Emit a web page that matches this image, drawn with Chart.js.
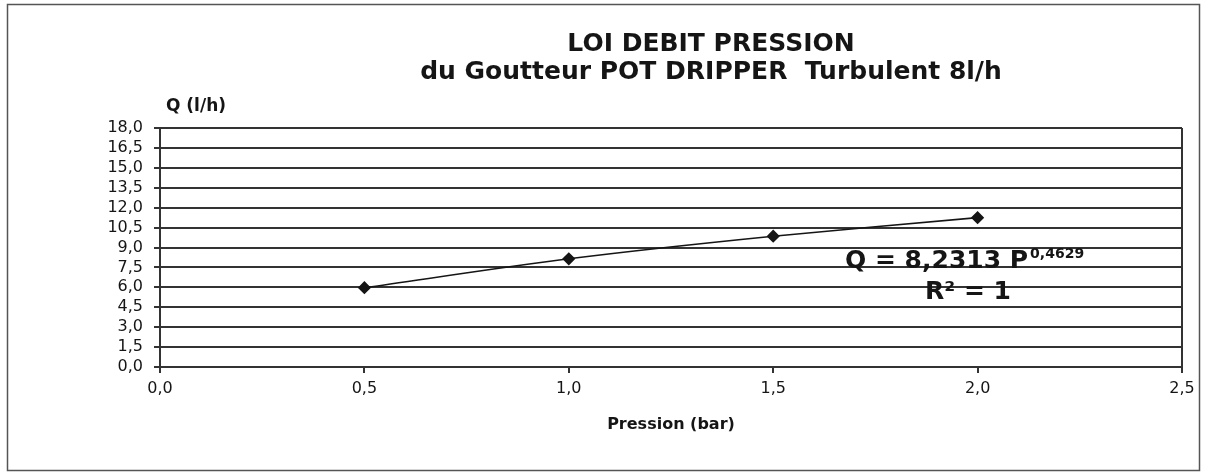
<!DOCTYPE html>
<html>
<head>
<meta charset="utf-8">
<script src="https://cdn.jsdelivr.net/npm/chart.js@4.4.0/dist/chart.umd.min.js"></script>
<style>
  html, body { margin: 0; padding: 0; background: #fff; }
  #wrap { width: 1207px; height: 476px; }
</style>
</head>
<body>
<div id="wrap"><canvas id="debitChart" width="1207" height="476"></canvas></div>
<script>
// pressure (bar) and flow (l/h)
var pressures = [0.5, 1.0, 1.5, 2.0];
var debits = [5.97, 8.15, 9.85, 11.25];

var titleLines = ['LOI DEBIT PRESSION', 'du Goutteur POT DRIPPER  Turbulent 8l/h'];
var yLabel = 'Q (l/h)';
var xLabel = 'Pression (bar)';
var equation = 'Q = 8,2313 P';
var exponent = '0,4629';
var rSquared = 'R\u00B2 = 1';

var ink = '#151515';
var fontName = '"DejaVu Sans", Verdana, sans-serif';

function comma(v) {
    return Number(v).toFixed(1).replace('.', ',');
}

// titles, Q label, equation and the frame round the whole figure
var decorations = {
    id: 'decorations',
    beforeDraw: function (chart) {
        var c = chart.ctx;
        c.save();
        c.fillStyle = '#fff';
        c.fillRect(0, 0, chart.width, chart.height);
        c.strokeStyle = '#555';
        c.lineWidth = 1.5;
        c.strokeRect(7.5, 4.5, 1192, 466);
        c.restore();
    },
    afterDraw: function (chart) {
        var c = chart.ctx;
        c.save();
        c.fillStyle = ink;
        c.textBaseline = 'middle';
        c.textAlign = 'center';
        c.font = 'bold 25px ' + fontName;
        c.fillText(titleLines[0], 711, 44);
        c.fillText(titleLines[1], 711, 72);

        c.font = 'bold 17px ' + fontName;
        c.fillText(yLabel, 196, 107);

        // power trendline label
        c.textAlign = 'left';
        c.font = 'bold 25px ' + fontName;
        c.fillText(equation, 845, 261);
        var w = c.measureText(equation).width;
        c.font = 'bold 14px ' + fontName;
        c.fillText(exponent, 845 + w + 2, 254);
        c.textAlign = 'center';
        c.font = 'bold 25px ' + fontName;
        c.fillText(rSquared, 968, 292);
        c.restore();
    }
};

new Chart(document.getElementById('debitChart').getContext('2d'), {
    type: 'scatter',
    data: {
        datasets: [{
            label: 'Q',
            data: pressures.map(function (p, i) {
                return { x: p, y: debits[i] };
            }),
            showLine: true,
            tension: 0.3,
            borderColor: ink,
            borderWidth: 1.6,
            pointStyle: 'rectRot',
            pointRadius: 5.5,
            pointBackgroundColor: ink,
            pointBorderColor: ink
        }]
    },
    options: {
        responsive: false,
        animation: false,
        layout: {
            padding: { top: 128, left: 60, right: 25, bottom: 39 }
        },
        plugins: {
            legend: { display: false },
            tooltip: { enabled: false }
        },
        scales: {
            x: {
                type: 'linear',
                min: 0,
                max: 2.5,
                ticks: {
                    stepSize: 0.5,
                    padding: 6,
                    color: ink,
                    font: { family: fontName, size: 16 },
                    callback: comma
                },
                grid: {
                    lineWidth: 2,
                    tickLength: 6,
                    tickColor: '#333',
                    color: function (ctx) {
                        return ctx.tick && ctx.tick.value === 2.5 ? '#333' : 'rgba(0,0,0,0)';
                    }
                },
                border: { display: true, color: '#333', width: 2 },
                title: {
                    display: true,
                    text: xLabel,
                    color: ink,
                    font: { family: fontName, size: 16, weight: 'bold' },
                    padding: { top: 0, bottom: 3 }
                },
                afterFit: function (scale) { scale.height = 70; }
            },
            y: {
                min: 0,
                max: 18,
                ticks: {
                    stepSize: 1.5,
                    autoSkip: false,
                    padding: 11,
                    color: ink,
                    font: { family: fontName, size: 16 },
                    callback: comma
                },
                grid: {
                    color: '#333',
                    lineWidth: 2,
                    tickLength: 6
                },
                border: { display: true, color: '#333', width: 2 },
                afterFit: function (scale) { scale.width = 100; }
            }
        }
    },
    plugins: [decorations]
});
</script>
</body>
</html>
